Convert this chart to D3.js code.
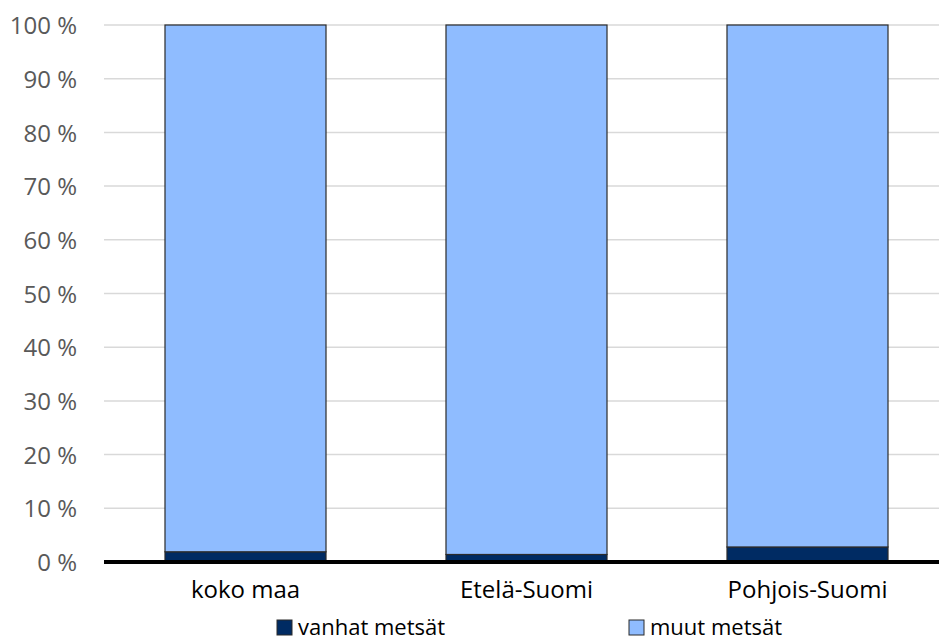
<!DOCTYPE html>
<html><head><meta charset="utf-8">
<script src="https://cdn.jsdelivr.net/npm/d3@7"></script>
<style>body{margin:0;background:#fff;} svg{display:block;}</style>
</head><body>
<svg id="c" width="939" height="642"></svg>
<script>
const categories = ["koko maa", "Etelä-Suomi", "Pohjois-Suomi"];
const vanhat = [1.9, 1.4, 2.8];
const muut = vanhat.map(v => 100 - v);
const seriesNames = ["vanhat metsät", "muut metsät"];
const seriesColors = ["#002b63", "#8fbcff"];
const yTicks = [0,10,20,30,40,50,60,70,80,90,100];

const svg = d3.select("#c");
const font = "'Open Sans', sans-serif";
const x = d3.scaleBand().domain(categories).range([105, 948]).paddingInner(0.427).paddingOuter(0.2135);
const y = d3.scaleLinear().domain([0,100]).range([562, 25]);

// gridlines
svg.append("g").selectAll("line").data(yTicks.filter(t=>t>0)).join("line")
  .attr("x1",104).attr("x2",939).attr("y1",d=>y(d)).attr("y2",d=>y(d))
  .attr("stroke","#d9d9d9").attr("stroke-width",1.5);

// y labels
const yAxis = d3.axisLeft(y).tickValues(yTicks).tickFormat(d=>d+" %").tickSize(0).tickPadding(0);
const ga = svg.append("g").attr("transform","translate(77,0)").call(yAxis);
ga.select(".domain").remove();
ga.selectAll("text").attr("font-family",font).attr("font-size",24).attr("fill","#595959").attr("dy","0.36em");

const data = categories.map((c,i)=>({cat:c, vanhat:vanhat[i], muut:muut[i]}));
const stack = d3.stack().keys(["vanhat","muut"])(data);
stack.forEach((s,si)=>{
  svg.append("g").selectAll("rect").data(s).join("rect")
    .attr("x",d=>x(d.data.cat)).attr("width",x.bandwidth())
    .attr("y",d=>y(d[1])).attr("height",d=>y(d[0])-y(d[1]))
    .attr("fill",seriesColors[si]).attr("stroke","#2b2b2b").attr("stroke-width",1.2);
});

// x axis
svg.append("line").attr("x1",104).attr("x2",939).attr("y1",y(0)).attr("y2",y(0))
  .attr("stroke","#000").attr("stroke-width",4);
const xAxis = d3.axisBottom(x).tickSize(0).tickPadding(0);
const gx = svg.append("g").attr("transform","translate(0,598)").call(xAxis);
gx.select(".domain").remove();
gx.selectAll("text").attr("font-family",font).attr("font-size",24).attr("fill","#000").attr("y",0).attr("dy",0);

// legend
const legX = [277, 629];
const lg = svg.append("g");
seriesNames.forEach((n,i)=>{
  lg.append("rect").attr("x",legX[i]).attr("y",620).attr("width",15).attr("height",15)
    .attr("fill",seriesColors[i]).attr("stroke","#2b2b2b").attr("stroke-width",1);
  lg.append("text").attr("x",legX[i]+21).attr("y",635)
    .attr("font-family",font).attr("font-size",22).attr("fill","#000").text(n);
});
</script>
</body></html>
